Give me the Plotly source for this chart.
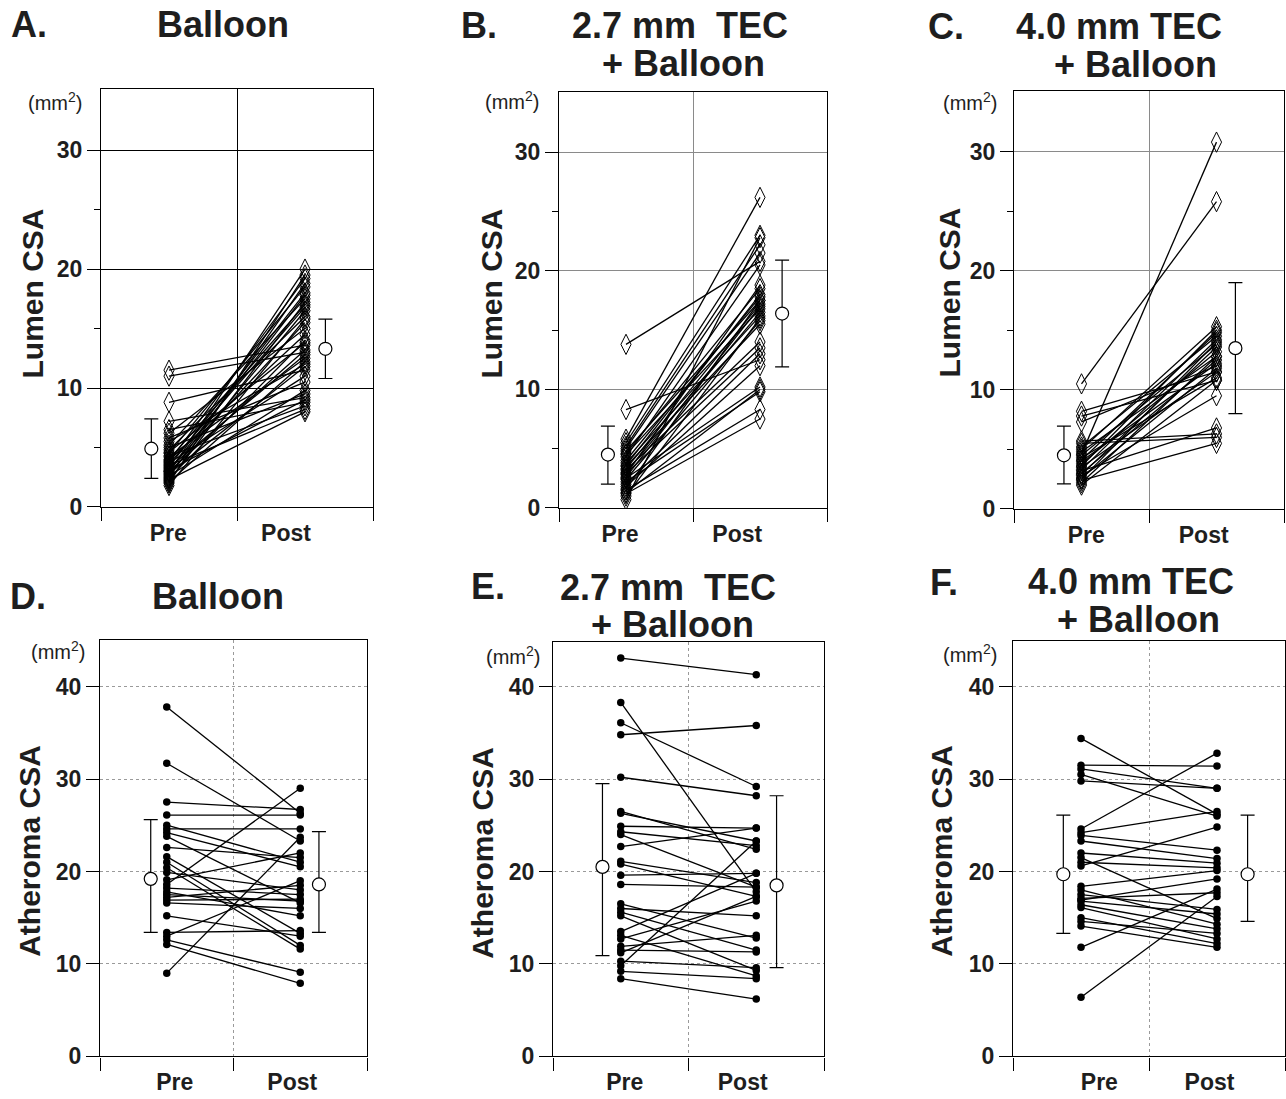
import plotly.graph_objects as go

W, H = 1286, 1099

# ---------------- data (mm^2) ----------------
# A. Balloon, Lumen CSA
a_pre = [11.5, 11.0, 8.8, 7.2, 6.5, 6.2, 5.8, 5.5, 5.2, 5.0, 4.8, 4.6, 4.5, 4.3, 4.2, 4.0, 3.9, 3.8, 3.7,
         3.6, 3.5, 3.4, 3.3, 3.2, 3.1, 3.0, 3.0, 2.9, 2.8, 2.7, 2.6, 2.5, 2.4, 2.3, 2.2, 2.1, 2.0, 1.8]
a_post = [13.6, 13.0, 11.5, 9.2, 8.8, 15.0, 10.5, 12.0, 17.5, 9.5, 16.0, 13.8, 18.5, 8.5, 12.5, 17.0, 14.5, 19.2, 11.0,
          16.8, 8.2, 18.0, 12.8, 15.5, 9.0, 17.8, 13.2, 20.0, 11.8, 16.5, 9.8, 18.8, 14.0, 8.0, 17.2, 12.2, 19.5, 15.8]
a_mean = [4.9, 13.3]
a_sd_up = [2.5, 2.5]
a_sd_dn = [2.5, 2.5]

# B. 2.7 mm TEC + Balloon, Lumen CSA
b_pre = [13.8, 8.3, 5.8, 5.5, 5.2, 5.0, 4.8, 4.6, 4.5, 4.3, 4.0, 3.8, 3.6, 3.5, 3.3, 3.2, 3.0, 2.9, 2.8,
         2.6, 2.5, 2.4, 2.2, 2.0, 1.8, 1.6, 1.5, 1.3, 1.2, 1.0, 0.7]
b_post = [20.8, 12.5, 26.2, 23.0, 22.2, 21.5, 17.5, 18.5, 16.8, 20.5, 17.8, 16.2, 18.0, 15.5, 17.2, 14.0, 16.5, 13.5, 18.8,
          17.0, 10.2, 15.8, 9.8, 13.0, 12.0, 17.5, 8.3, 10.0, 7.5, 16.0, 22.8]
b_mean = [4.5, 16.4]
b_sd_up = [2.4, 4.5]
b_sd_dn = [2.5, 4.5]

# C. 4.0 mm TEC + Balloon, Lumen CSA
c_pre = [10.5, 8.2, 7.8, 7.3, 5.7, 5.5, 5.2, 5.0, 4.8, 4.6, 4.5, 4.3, 4.1, 4.0, 3.8, 3.6, 3.5, 3.3, 3.2,
         3.0, 2.9, 2.8, 2.6, 2.5, 2.4, 2.2, 2.0]
c_post = [25.8, 11.5, 10.8, 12.0, 6.3, 6.0, 14.5, 15.3, 12.8, 30.8, 13.8, 11.0, 14.8, 12.2, 13.2, 15.0, 11.5, 14.2, 6.8,
          12.5, 13.6, 9.5, 11.8, 14.0, 5.5, 12.8, 10.8]
c_mean = [4.5, 13.5]
c_sd_up = [2.45, 5.5]
c_sd_dn = [2.4, 5.5]

# D. Balloon, Atheroma CSA
d_pre = [37.8, 31.7, 27.5, 26.1, 25.0, 24.6, 24.2, 23.8, 22.6, 21.6, 21.0, 20.4, 19.9, 19.1, 18.6, 18.2, 17.8, 17.5,
         17.2, 16.9, 16.6, 15.2, 13.4, 13.0, 12.6, 12.1, 9.0]
d_post = [26.3, 23.3, 26.7, 26.1, 21.0, 24.6, 20.5, 16.6, 21.5, 13.3, 12.0, 11.6, 18.0, 22.0, 29.0, 17.5, 15.2, 16.8,
          18.5, 17.0, 16.0, 13.0, 13.6, 19.0, 9.1, 7.9, 23.7]
d_mean = [19.2, 18.6]
d_sd_up = [6.4, 5.7]
d_sd_dn = [5.8, 5.2]

# E. 2.7 mm TEC + Balloon, Atheroma CSA
e_pre = [43.1, 38.3, 36.1, 34.8, 30.2, 26.5, 26.3, 24.9, 24.3, 24.0, 22.7, 21.1, 20.8, 19.6, 18.6, 16.5, 16.0, 15.6,
         15.2, 13.5, 13.1, 12.7, 11.9, 11.5, 11.2, 10.3, 9.8, 9.2, 8.4]
e_post = [41.3, 17.8, 29.2, 35.8, 28.2, 22.4, 23.3, 24.7, 22.8, 18.3, 24.7, 18.8, 17.3, 19.8, 18.3, 12.8, 15.2, 11.5,
          9.3, 19.8, 8.7, 16.8, 13.1, 11.3, 17.3, 9.6, 23.3, 8.4, 6.2]
e_mean = [20.5, 18.5]
e_sd_up = [9.0, 9.7]
e_sd_dn = [9.6, 8.9]

# F. 4.0 mm TEC + Balloon, Atheroma CSA
f_pre = [34.4, 31.5, 31.1, 30.5, 29.8, 24.6, 24.2, 23.9, 23.3, 22.0, 21.5, 21.0, 20.6, 18.4, 18.0, 17.5, 17.1, 16.9,
         16.8, 16.4, 16.1, 15.0, 14.6, 14.1, 11.8, 6.4]
f_post = [26.2, 31.4, 29.0, 26.0, 29.0, 32.8, 26.5, 22.3, 21.4, 20.9, 14.9, 20.4, 24.8, 20.1, 14.3, 15.9, 17.7, 19.2,
          15.4, 13.8, 12.7, 12.2, 13.3, 11.8, 18.1, 17.3]
f_mean = [19.7, 19.7]
f_sd_up = [6.4, 6.4]
f_sd_dn = [6.4, 5.1]

categories = ["Pre", "Post"]
cat_pos = [1, 3]

# ---------------- layout helpers ----------------
FONT = "Liberation Sans, Arial, Helvetica, sans-serif"
TXT = "#1e1e1e"


def xd(a, b):
    return [a / W, b / W]


def yd(top, bottom):
    return [1 - bottom / H, 1 - top / H]


panels = [
    dict(pre=a_pre, post=a_post, mean=a_mean, up=a_sd_up, dn=a_sd_dn, mx=[0.74, 3.3], lab=[0.99, 2.72],
         xdom=(101, 373), ydom=(90, 513), ymax=35.15, ticks=[0, 10, 20, 30], minor=[5, 15, 25],
         sym="diamond-tall-open", grid="black", gw=1.2, dash="solid"),
    dict(pre=b_pre, post=b_post, mean=b_mean, up=b_sd_up, dn=b_sd_dn, mx=[0.73, 3.33], lab=[0.91, 2.66],
         xdom=(559, 827), ydom=(93, 514), ymax=35.1, ticks=[0, 10, 20, 30], minor=[5, 15, 25],
         sym="diamond-tall-open", grid="#8a8a8a", gw=0.9, dash="solid"),
    dict(pre=c_pre, post=c_post, mean=c_mean, up=c_sd_up, dn=c_sd_dn, mx=[0.74, 3.28], lab=[1.07, 2.81],
         xdom=(1014, 1284), ydom=(92, 515), ymax=35.1, ticks=[0, 10, 20, 30], minor=[5, 15, 25],
         sym="diamond-tall-open", grid="#8a8a8a", gw=0.9, dash="solid"),
    dict(pre=d_pre, post=d_post, mean=d_mean, up=d_sd_up, dn=d_sd_dn, mx=[0.76, 3.28], lab=[1.12, 2.88],
         xdom=(100, 367), ydom=(648, 1069), ymax=45.0, ticks=[0, 10, 20, 30, 40], minor=[],
         sym="circle", grid="#9a9a9a", gw=0.9, dash="dot"),
    dict(pre=e_pre, post=e_post, mean=e_mean, up=e_sd_up, dn=e_sd_dn, mx=[0.73, 3.3], lab=[1.06, 2.80],
         xdom=(553, 824), ydom=(650, 1069), ymax=44.8, ticks=[0, 10, 20, 30, 40], minor=[],
         sym="circle", grid="#9a9a9a", gw=0.9, dash="dot"),
    dict(pre=f_pre, post=f_post, mean=f_mean, up=f_sd_up, dn=f_sd_dn, mx=[0.74, 3.45], lab=[1.27, 2.89],
         xdom=(1013, 1285), ydom=(649, 1069), ymax=44.9, ticks=[0, 10, 20, 30, 40], minor=[],
         sym="circle", grid="#9a9a9a", gw=0.9, dash="dot"),
]

fig = go.Figure()
layout = dict(width=W, height=H, margin=dict(l=0, r=0, t=0, b=0),
              paper_bgcolor="white", plot_bgcolor="white", showlegend=False,
              font=dict(family=FONT, color=TXT))

for i, p in enumerate(panels, start=1):
    sx = "" if i == 1 else str(i)
    xs, ys = [], []
    for a, b in zip(p["pre"], p["post"]):
        xs += [cat_pos[0], cat_pos[1], None]
        ys += [a, b, None]
    if p["sym"] == "circle":
        marker = dict(symbol="circle", size=7.5, color="black")
    else:
        marker = dict(symbol="diamond-tall-open", size=14.5, color="black", line=dict(width=1))
    fig.add_trace(go.Scatter(x=xs, y=ys, mode="lines+markers", line=dict(color="black", width=1.3),
                             marker=marker, xaxis="x" + sx, yaxis="y" + sx, hoverinfo="skip"))
    fig.add_trace(go.Scatter(x=p["mx"], y=p["mean"], mode="markers",
                             marker=dict(symbol="circle", size=13, color="white",
                                         line=dict(color="black", width=1.2)),
                             error_y=dict(type="data", symmetric=False, array=p["up"], arrayminus=p["dn"],
                                          color="black", thickness=1.2, width=7),
                             xaxis="x" + sx, yaxis="y" + sx))
    layout["xaxis" + sx] = dict(
        domain=xd(*p["xdom"]), anchor="y" + sx, range=[0, 4], tickmode="array", tickvals=p["lab"],
        ticktext=categories, ticks="", showgrid=False, zeroline=False, showline=True, mirror=True,
        linecolor="black", linewidth=1.3, tickfont=dict(size=23, color=TXT, family=FONT, weight="bold"),
        ticklabelstandoff=5, fixedrange=True,
        minor=dict(tickmode="array", tickvals=[0, 2, 4], ticks="outside", ticklen=13, tickcolor="black",
                   tickwidth=1.2, showgrid=True, gridcolor=p["grid"], gridwidth=p["gw"], griddash=p["dash"]))
    ymin = dict(tickmode="array", tickvals=p["minor"], ticks="outside", ticklen=6, tickcolor="black",
                tickwidth=1.2, showgrid=False) if p["minor"] else dict(ticks="")
    layout["yaxis" + sx] = dict(
        domain=yd(*p["ydom"]), anchor="x" + sx, range=[0, p["ymax"]], tickmode="array", tickvals=p["ticks"],
        ticks="outside", ticklen=13, tickcolor="black", tickwidth=1.2, showgrid=True, gridcolor=p["grid"],
        gridwidth=p["gw"], griddash=p["dash"], zeroline=False, showline=True, mirror=True, linecolor="black",
        linewidth=1.3, tickfont=dict(size=23, color=TXT, family=FONT, weight="bold"), fixedrange=True,
        minor=ymin)

annotations = []


def ann(text, x, y, size, xanchor="center", angle=0, bold=True):
    annotations.append(dict(text=text, x=x / W, y=1 - y / H, xref="paper", yref="paper", showarrow=False,
                            xanchor=xanchor, yanchor="middle", textangle=angle,
                            font=dict(size=size, family=FONT, color=TXT, weight="bold" if bold else "normal")))


TS = 36
# titles
ann("A.", 9, 25, TS, "left"); ann("Balloon", 223, 25, TS)
ann("B.", 459, 26, TS, "left"); ann("2.7 mm\u00a0 TEC", 680, 26, TS); ann("+ Balloon", 683, 64, TS)
ann("C.", 926, 27, TS, "left"); ann("4.0 mm TEC", 1119, 27, TS); ann("+ Balloon", 1135, 65, TS)
ann("D.", 8, 604, TS, "left"); ann("Balloon", 218, 604, TS)
ann("E.", 469, 594, TS, "left"); ann("2.7 mm\u00a0 TEC", 668, 595, TS); ann("+ Balloon", 672, 632, TS)
ann("F.", 928, 589, TS, "left"); ann("4.0 mm TEC", 1131, 588, TS); ann("+ Balloon", 1138, 627, TS)
# units
for (ux, uy) in [(55, 103), (512, 102), (970, 103), (58, 658), (513, 663), (970, 661)]:
    ann("(mm<sup>2</sup>)", ux, uy, 20, bold=False)
# y titles
ann("Lumen CSA", 32, 297, 30, angle=-90)
ann("Lumen CSA", 491, 297, 30, angle=-90)
ann("Lumen CSA", 949, 296, 30, angle=-90)
ann("Atheroma CSA", 30, 861, 30, angle=-90)
ann("Atheroma CSA", 483, 863, 30, angle=-90)
ann("Atheroma CSA", 942, 861, 30, angle=-90)

layout["annotations"] = annotations
fig.update_layout(**layout)

fig.write_html("out.html", config={"displayModeBar": False},
               post_script="document.documentElement.style.margin='0px';document.body.style.margin='0px';"
                           "document.body.style.overflow='hidden';document.documentElement.style.overflow='hidden';")

with open("out.html", "r", encoding="utf-8") as fh:
    html = fh.read()
style = "<style>html,body{margin:0;padding:0;overflow:hidden;}</style>"
if "<head>" in html:
    html = html.replace("<head>", "<head>" + style, 1)
else:
    html = style + html
with open("out.html", "w", encoding="utf-8") as fh:
    fh.write(html)
